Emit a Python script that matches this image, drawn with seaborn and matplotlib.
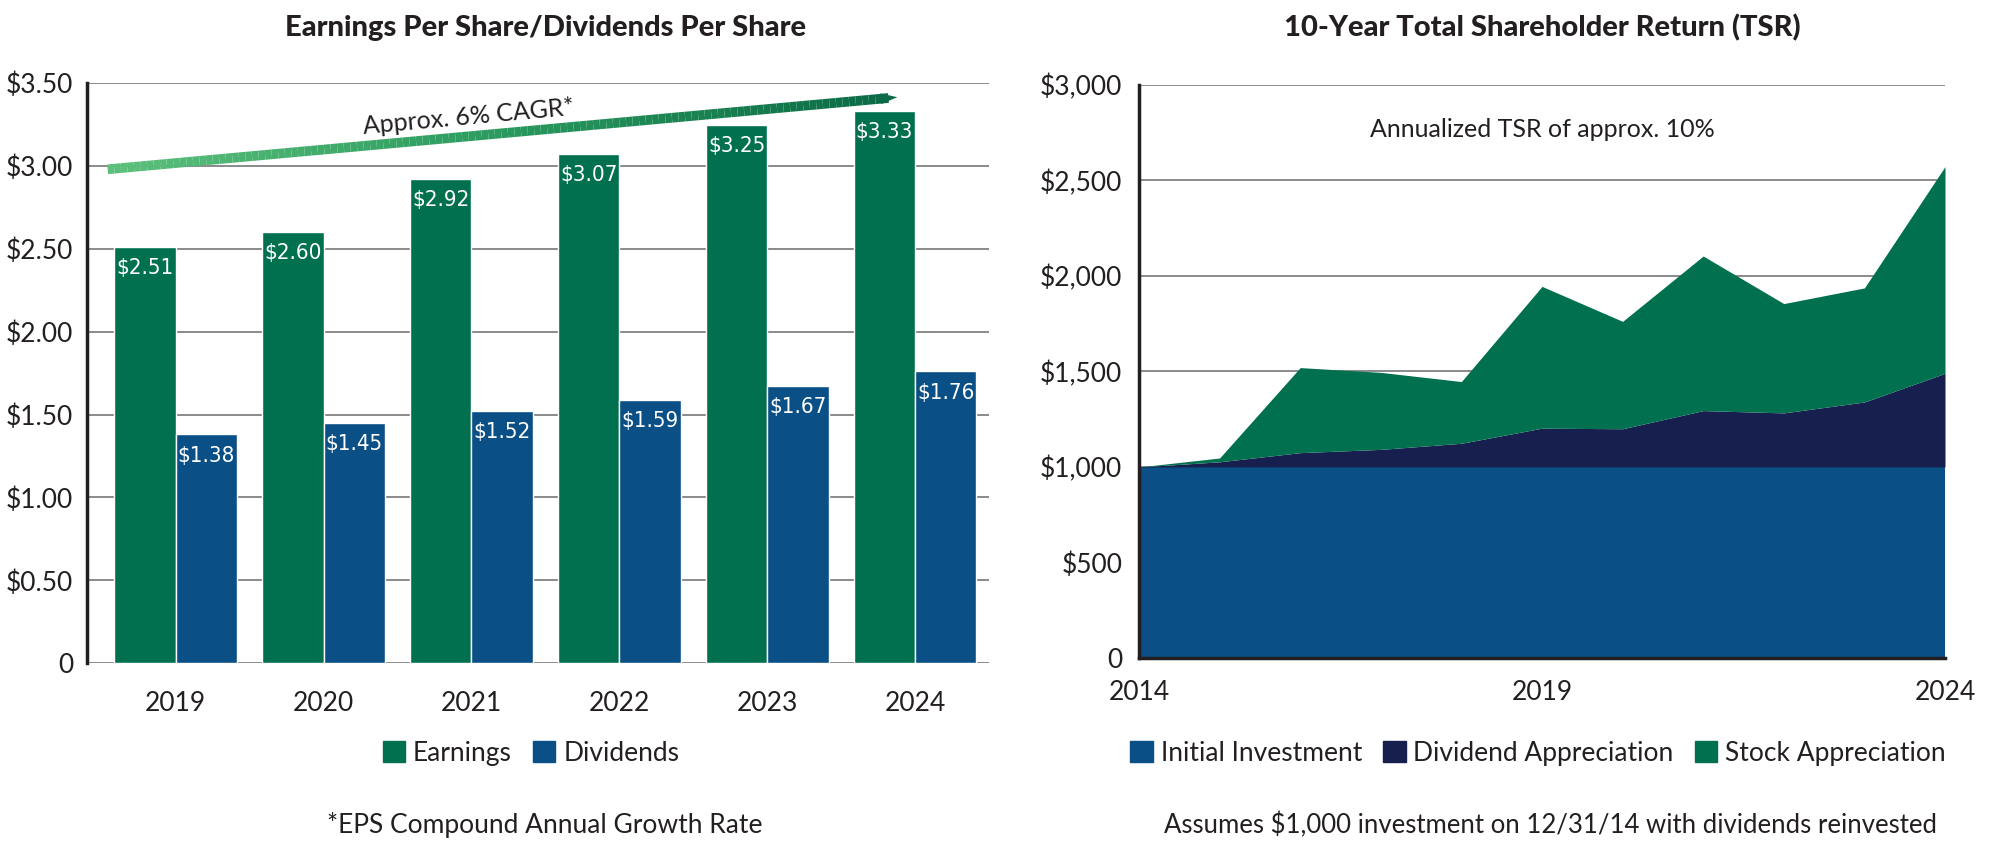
import numpy as np
import pandas as pd
import seaborn as sns
import matplotlib
matplotlib.use("Agg")
from matplotlib import pyplot as plt
from matplotlib.patches import Patch
from matplotlib.collections import LineCollection
from matplotlib.colors import LinearSegmentedColormap

# EPS / DPS per year
years = ["2019", "2020", "2021", "2022", "2023", "2024"]
earnings = [2.51, 2.60, 2.92, 3.07, 3.25, 3.33]
dividends = [1.38, 1.45, 1.52, 1.59, 1.67, 1.76]
eps_ticks = [0, 0.5, 1.0, 1.5, 2.0, 2.5, 3.0, 3.5]

# growth of $1,000 invested 12/31/14
tsr_years = [2014, 2015, 2016, 2017, 2018, 2019, 2020, 2021, 2022, 2023, 2024]
initial_investment = [1000, 1000, 1000, 1000, 1000, 1000, 1000, 1000, 1000, 1000, 1000]
dividend_appreciation = [0, 27, 75, 92, 124, 203, 200, 295, 283, 340, 490]
stock_appreciation = [0, 20, 445, 403, 323, 742, 562, 809, 572, 597, 1082]
tsr_ticks = [0, 500, 1000, 1500, 2000, 2500, 3000]
tsr_labeled_years = [2014, 2019, 2024]

# CAGR trend arrow, in bar-chart data coords
cagr_start = (-0.46, 2.98)
cagr_end = (4.82, 3.41)

GREEN = "#00704f"
BLUE = "#0a4f85"
NAVY = "#161f4e"
GRID = "#8a8a8a"
INK = "#231f20"

sns.set_style("white")
plt.rcParams["font.family"] = ["Lato", "DejaVu Sans"]
plt.rcParams["text.color"] = INK
plt.rcParams["xtick.color"] = INK
plt.rcParams["ytick.color"] = INK

fig = plt.figure(figsize=(20, 8.48), dpi=100)
ax1 = fig.add_axes([0.0435, 0.218, 0.451, 0.684])
ax2 = fig.add_axes([0.5695, 0.224, 0.403, 0.676])

# ---- left: EPS / DPS bars
df = pd.DataFrame({
    "year": years * 2,
    "value": earnings + dividends,
    "series": ["Earnings"] * len(years) + ["Dividends"] * len(years),
})
sns.barplot(data=df, x="year", y="value", hue="series", palette=[GREEN, BLUE],
            width=0.83, saturation=1, legend=False, ax=ax1)
for patch in ax1.patches:
    patch.set_zorder(2)

ax1.set_xlim(-0.6, 5.5)
ax1.set_ylim(0, 3.5)
for t in eps_ticks:
    ax1.axhline(t, color=GRID, lw=1.4, zorder=0)
ax1.set_yticks(eps_ticks)
ax1.set_yticklabels(["0"] + [f"${v:.2f}" for v in eps_ticks[1:]])
ax1.set_xlabel("")
ax1.set_ylabel("")
ax1.tick_params(axis="both", length=0, labelsize=19)
ax1.tick_params(axis="y", pad=10)
ax1.tick_params(axis="x", pad=20)
for side in ["top", "right", "bottom"]:
    ax1.spines[side].set_visible(False)
ax1.spines["left"].set_linewidth(2.5)
ax1.spines["left"].set_color(INK)

for container in ax1.containers:
    for bar in container:
        h = bar.get_height()
        ax1.annotate(f"${h:.2f}", (bar.get_x() + bar.get_width() / 2, h),
                     xytext=(0, -8), textcoords="offset points",
                     ha="center", va="top", color="white", fontsize=16,
                     family="DejaVu Sans", fontstretch="condensed", zorder=4)

# gradient CAGR arrow
n = 120
xs = np.linspace(cagr_start[0], cagr_end[0], n)
ys = np.linspace(cagr_start[1], cagr_end[1], n)
pts = np.column_stack([xs, ys]).reshape(-1, 1, 2)
segs = np.concatenate([pts[:-1], pts[1:]], axis=1)
cmap = LinearSegmentedColormap.from_list("cagr", ["#5cc07c", "#2a9a5e", "#0b6b46"])
lc = LineCollection(segs, cmap=cmap, array=np.linspace(0, 1, n - 1),
                    lw=7, capstyle="butt", zorder=3)
ax1.add_collection(lc)
dx = 0.06
ax1.annotate("", xy=(cagr_end[0] + dx, cagr_end[1] + dx * (cagr_end[1] - cagr_start[1]) / (cagr_end[0] - cagr_start[0])),
             xytext=cagr_end,
             arrowprops=dict(arrowstyle="-|>,head_length=1.0,head_width=0.32",
                             mutation_scale=12, color="#0b6b46", lw=0, shrinkA=0, shrinkB=0),
             zorder=3)

p0 = ax1.transData.transform(cagr_start)
p1 = ax1.transData.transform(cagr_end)
angle = np.degrees(np.arctan2(p1[1] - p0[1], p1[0] - p0[0]))
tx = 1.98
ty = cagr_start[1] + (tx - cagr_start[0]) * (cagr_end[1] - cagr_start[1]) / (cagr_end[0] - cagr_start[0])
ax1.annotate("Approx. 6% CAGR*", (tx, ty), xytext=(0, 14), textcoords="offset points",
             ha="center", va="center", rotation=angle, fontsize=18)

# ---- right: TSR stacked area
ax2.stackplot(tsr_years, initial_investment, dividend_appreciation, stock_appreciation,
              colors=[BLUE, NAVY, GREEN], lw=0, zorder=1)
for t in tsr_ticks[1:]:
    ax2.axhline(t, color=GRID, lw=1.4, zorder=0.5)
ax2.set_xlim(tsr_years[0], tsr_years[-1])
ax2.set_ylim(0, 3000)
ax2.set_axisbelow(False)
ax2.set_xticks(tsr_years)
ax2.set_xticklabels([str(y) if y in tsr_labeled_years else "" for y in tsr_years])
ax2.set_yticks(tsr_ticks)
ax2.set_yticklabels(["0"] + [f"${v:,}" for v in tsr_ticks[1:]])
ax2.tick_params(axis="y", length=0, labelsize=19, pad=12)
ax2.tick_params(axis="x", direction="in", length=10, width=2.5, labelsize=19, pad=16)
for side in ["top", "right"]:
    ax2.spines[side].set_visible(False)
for side in ["left", "bottom"]:
    ax2.spines[side].set_linewidth(2.5)
    ax2.spines[side].set_color(INK)
    ax2.spines[side].set_zorder(3)
ax2.text(2019, 2766, "Annualized TSR of approx. 10%", ha="center", va="center", fontsize=18)

# ---- titles, legends, footnotes
fig.text(0.2726, 0.967, "Earnings Per Share/Dividends Per Share", ha="center", va="center",
         fontsize=21, fontweight="black")
fig.text(0.7714, 0.967, "10-Year Total Shareholder Return (TSR)", ha="center", va="center",
         fontsize=21, fontweight="black")

leg_kw = dict(loc="center", ncol=3, frameon=False, fontsize=19, handlelength=0.85,
              handleheight=0.85, handletextpad=0.3, columnspacing=0.8)
fig.legend(handles=[Patch(color=GREEN, label="Earnings"), Patch(color=BLUE, label="Dividends")],
           bbox_to_anchor=(0.2655, 0.112), **leg_kw)
fig.legend(handles=[Patch(color=BLUE, label="Initial Investment"),
                    Patch(color=NAVY, label="Dividend Appreciation"),
                    Patch(color=GREEN, label="Stock Appreciation")],
           bbox_to_anchor=(0.769, 0.112), **leg_kw)

fig.text(0.2725, 0.027, "*EPS Compound Annual Growth Rate", ha="center", va="center", fontsize=19)
fig.text(0.7755, 0.027, "Assumes $1,000 investment on 12/31/14 with dividends reinvested",
         ha="center", va="center", fontsize=18.5)

fig.savefig("out.png", dpi=100)
